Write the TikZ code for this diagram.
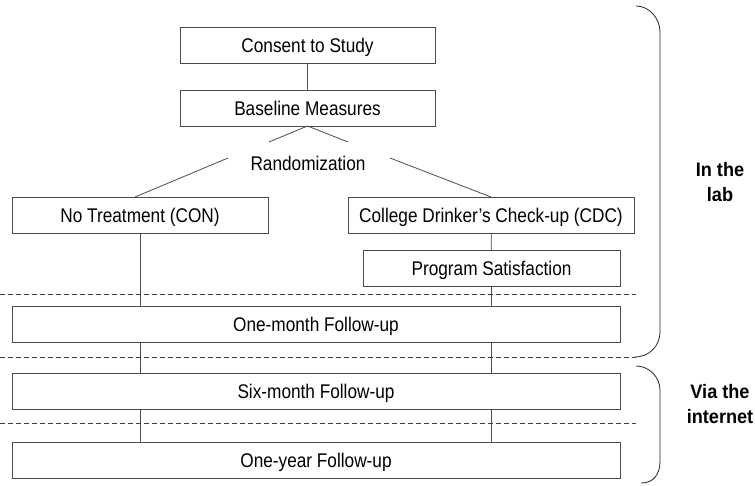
\documentclass[tikz,border=0pt]{standalone}
\usepackage{fontspec}
\usetikzlibrary{calc}
\newfontfamily\narrowfont{Liberation Sans}[FakeStretch=0.87]
\newfontfamily\boldside{Liberation Sans}[FakeStretch=0.93]
\begin{document}
\begin{tikzpicture}[x=1pt,y=-1pt,
  txt/.style={font=\narrowfont\fontsize{19.8}{22}\selectfont, text=black},
  box/.style={txt, draw=black!70, line width=0.9pt, rectangle, inner sep=0pt, outer sep=0pt,
    minimum height=36pt, text height=14.2pt, text depth=0pt},
  conn/.style={draw=black!70, line width=0.8pt},
  sep/.style={draw=black!75, line width=0.7pt, dash pattern=on 5pt off 3pt},
  brace/.style={draw=black!85, line width=0.8pt},
  side/.style={font=\boldside\bfseries\fontsize{19.5}{25}\selectfont, text=black, inner sep=0pt, anchor=base}]
\useasboundingbox (0,0) rectangle (755,485);

% boxes
\node[box, minimum width=255pt] (cs) at (307.5,45) {Consent to Study};
\node[box, minimum width=255pt] (bm) at (307.5,108) {Baseline Measures};
\node[txt, inner sep=0pt, anchor=base] (rd) at (308,170) {Randomization};
\node[box, minimum width=256pt] (nt) at (140,215) {No Treatment (CON)};
\node[box, minimum width=286pt] (cdc) at (491,215) {College Drinker’s Check-up (CDC)};
\node[box, minimum width=257pt] (ps) at (491.5,268) {Program Satisfaction};
\node[box, minimum width=608pt] (om) at (316,324) {One-month Follow-up};
\node[box, minimum width=608pt] (sm) at (316,391) {Six-month Follow-up};
\node[box, minimum width=608pt] (oy) at (316,460) {One-year Follow-up};

% randomization connectors
\coordinate (rl) at (269,142);
\coordinate (rr) at (348,142);
\coordinate (rl2) at (228,158);
\coordinate (rr2) at (390,158);
\draw[conn] (cs) -- (bm);
\draw[conn] (bm.south) -- (rl);
\draw[conn] (bm.south) -- (rr);
\draw[conn] (rl2) -- ($(nt.north)+(-5,0)$);
\draw[conn] (rr2) -- (cdc.north);

% vertical flow lines
\draw[conn] (nt.south) -- (nt.south |- om.north);
\draw[conn] (nt.south |- om.south) -- (nt.south |- sm.north);
\draw[conn] (nt.south |- sm.south) -- (nt.south |- oy.north);
\draw[conn] (cdc) -- (ps);
\draw[conn] (ps.south) -- (ps.south |- om.north);
\draw[conn] (ps.south |- om.south) -- (ps.south |- sm.north);
\draw[conn] (ps.south |- sm.south) -- (ps.south |- oy.north);

% dashed separators
\coordinate (d1a) at (0,294);   \coordinate (d1b) at (636,294);
\coordinate (d2a) at (0,357);   \coordinate (d2b) at (636,357);
\coordinate (d3a) at (0,423);   \coordinate (d3b) at (636,423);
\draw[sep] (d1a) -- (d1b);
\draw[sep] (d2a) -- (d2b);
\draw[sep] (d3a) -- (d3b);

% braces
\draw[brace] (636,6) .. controls (649,6) and (660,18) .. (660,32) -- (660,332)
  .. controls (660,346) and (649,357) .. (635,357);
\draw[brace] (636,366) .. controls (649,366) and (660,377) .. (660,390) -- (660,461)
  .. controls (660,474) and (654,483) .. (641,483);

% side labels
\node[side] (lab1) at (720,176) {In the};
\node[side] (lab2) at (720,201) {lab};
\node[side] (via1) at (720,398) {Via the};
\node[side] (via2) at (720,423) {internet};
\end{tikzpicture}
\end{document}
